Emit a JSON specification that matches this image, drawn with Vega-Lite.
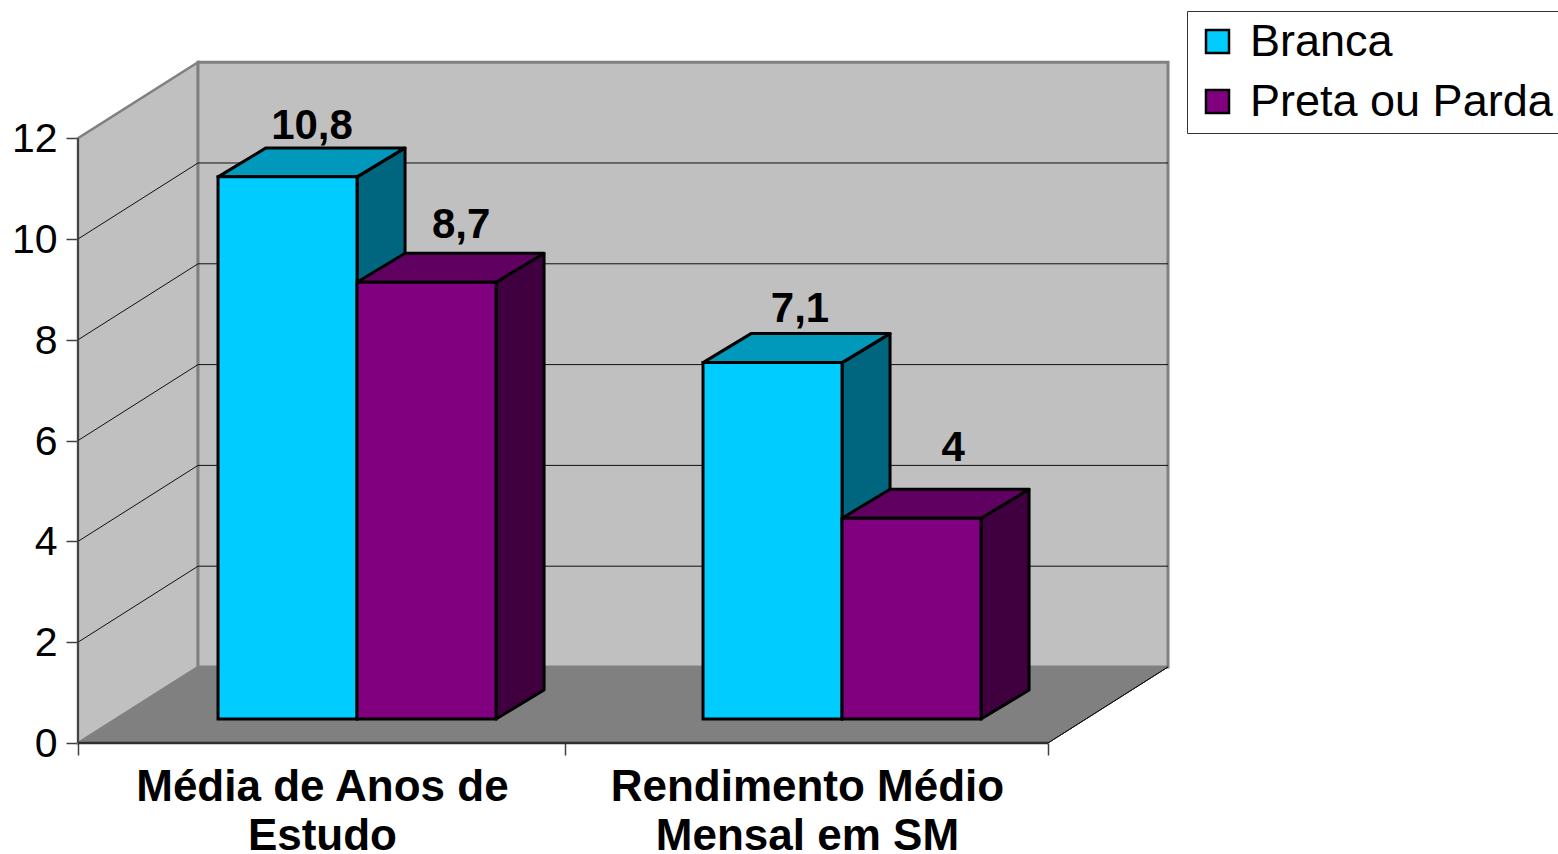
{
  "$schema": "https://vega.github.io/schema/vega-lite/v6.json",
  "width": 1480,
  "height": 743,
  "autosize": "none",
  "padding": {"left": 78, "top": 0, "right": 0, "bottom": 111},
  "background": "white",
  "config": {"view": {"stroke": null}, "font": "Liberation Sans"},
  "params": [
    {"name": "paredeX", "value": 0.2474},
    {"name": "paredeY", "value": 1.508},
    {"name": "fundoX", "value": 2},
    {"name": "barraL", "value": 0.2866},
    {"name": "barraX", "value": 0.099},
    {"name": "barraY", "value": 0.575},
    {"name": "baseY", "value": 0.476}
  ],
  "datasets": {
    "grade": [{"v": 0}, {"v": 2}, {"v": 4}, {"v": 6}, {"v": 8}, {"v": 10}, {"v": 12}],
    "barras": [
      {"categoria": "Média de Anos de\nEstudo", "serie": "Branca", "valor": 10.8},
      {"categoria": "Média de Anos de\nEstudo", "serie": "Preta ou Parda", "valor": 8.7},
      {"categoria": "Rendimento Médio\nMensal em SM", "serie": "Branca", "valor": 7.1},
      {"categoria": "Rendimento Médio\nMensal em SM", "serie": "Preta ou Parda", "valor": 4}
    ]
  },
  "layer": [
    {
      "data": {"values": [{"t": 0}, {"t": 1}]},
      "transform": [
        {"calculate": "datum.t*paredeX", "as": "x"},
        {"calculate": "datum.t*paredeY", "as": "y0"},
        {"calculate": "12+datum.t*paredeY", "as": "y1"}
      ],
      "mark": {"type": "area", "fill": "#C0C0C0", "stroke": "#808080", "strokeWidth": 2.5, "clip": false},
      "encoding": {
        "x": {
          "field": "x", "type": "quantitative",
          "scale": {"domain": [0, 3.0515], "nice": false, "zero": false},
          "axis": {"values": [0, 1.004, 2], "labels": false, "domain": false, "grid": false, "title": null, "tickSize": 12, "tickColor": "#404040", "tickWidth": 1.5}
        },
        "y": {
          "field": "y0", "type": "quantitative",
          "scale": {"domain": [0, 14.742], "nice": false, "zero": false},
          "axis": {"values": [0, 2, 4, 6, 8, 10, 12], "domain": false, "grid": false, "title": null, "tickSize": 12, "tickColor": "#404040", "tickWidth": 1.5, "labelFontSize": 41, "labelFont": "Liberation Sans", "labelColor": "black", "labelPadding": 9, "labelOffset": 1.5, "labelFlush": false, "labelOverlap": false}
        },
        "y2": {"field": "y1"}
      }
    },
    {
      "data": {"values": [{"v": 0}]},
      "transform": [
        {"calculate": "paredeX", "as": "x0"},
        {"calculate": "paredeX+fundoX", "as": "x1"},
        {"calculate": "paredeY", "as": "y0"},
        {"calculate": "12+paredeY", "as": "y1"}
      ],
      "mark": {"type": "rect", "fill": "#C0C0C0", "stroke": "#808080", "strokeWidth": 3},
      "encoding": {
        "x": {"field": "x0", "type": "quantitative"},
        "x2": {"field": "x1"},
        "y": {"field": "y0", "type": "quantitative"},
        "y2": {"field": "y1"}
      }
    },
    {
      "data": {"name": "grade"},
      "transform": [
        {"filter": "datum.v>0 && datum.v<12"},
        {"calculate": "paredeX", "as": "x0"},
        {"calculate": "paredeX+fundoX", "as": "x1"},
        {"calculate": "datum.v+paredeY", "as": "y0"}
      ],
      "mark": {"type": "rule", "stroke": "#111111", "strokeWidth": 1},
      "encoding": {
        "x": {"field": "x0", "type": "quantitative"},
        "x2": {"field": "x1"},
        "y": {"field": "y0", "type": "quantitative"}
      }
    },
    {
      "data": {"name": "grade"},
      "transform": [
        {"filter": "datum.v>0 && datum.v<12"},
        {"calculate": "0", "as": "x0"},
        {"calculate": "paredeX", "as": "x1"},
        {"calculate": "datum.v+paredeY", "as": "y1"}
      ],
      "mark": {"type": "rule", "stroke": "#111111", "strokeWidth": 1},
      "encoding": {
        "x": {"field": "x0", "type": "quantitative"},
        "x2": {"field": "x1"},
        "y": {"field": "v", "type": "quantitative"},
        "y2": {"field": "y1"}
      }
    },
    {
      "data": {"values": [{"t": 0}, {"t": 1}, {"t": 2}, {"t": 3}]},
      "transform": [
        {"calculate": "datum.t==0?0:datum.t==1?paredeX:datum.t==2?fundoX:fundoX+paredeX", "as": "x"},
        {"calculate": "datum.t==3?paredeY:0", "as": "y0"},
        {"calculate": "datum.t==0?0:paredeY", "as": "y1"}
      ],
      "mark": {"type": "area", "fill": "#808080"},
      "encoding": {
        "x": {"field": "x", "type": "quantitative"},
        "y": {"field": "y0", "type": "quantitative"},
        "y2": {"field": "y1"}
      }
    },
    {
      "data": {"values": [{"t": 0}, {"t": 1}]},
      "transform": [
        {"calculate": "fundoX", "as": "x0"},
        {"calculate": "fundoX+paredeX", "as": "x1"},
        {"calculate": "0", "as": "y0"},
        {"calculate": "paredeY", "as": "y1"}
      ],
      "mark": {"type": "rule", "stroke": "#111111", "strokeWidth": 1},
      "encoding": {
        "x": {"field": "x0", "type": "quantitative"},
        "x2": {"field": "x1"},
        "y": {"field": "y0", "type": "quantitative"},
        "y2": {"field": "y1"}
      }
    },
    {
      "data": {"values": [{"v": 0}]},
      "transform": [
        {"calculate": "0", "as": "x0"},
        {"calculate": "fundoX", "as": "x1"}
      ],
      "mark": {"type": "rule", "stroke": "#303030", "strokeWidth": 2.5},
      "encoding": {
        "x": {"field": "x0", "type": "quantitative"},
        "x2": {"field": "x1"},
        "y": {"field": "v", "type": "quantitative"}
      }
    },
    {
      "data": {"values": [{"v": 0}]},
      "transform": [
        {"calculate": "0", "as": "x0"},
        {"calculate": "12", "as": "y1"}
      ],
      "mark": {"type": "rule", "stroke": "#303030", "strokeWidth": 1.5},
      "encoding": {
        "x": {"field": "x0", "type": "quantitative"},
        "y": {"field": "v", "type": "quantitative"},
        "y2": {"field": "y1"}
      }
    },
    {
      "data": {"name": "barras"},
      "transform": [
        {"calculate": "indexof(datum.categoria,'Rendimento')==0?1:0", "as": "g"},
        {"calculate": "datum.serie=='Branca'?0:1", "as": "s"},
        {"calculate": "datum.g+0.2887+datum.s*barraL", "as": "xl"},
        {"calculate": "datum.xl+barraL", "as": "xr"},
        {"calculate": "baseY+datum.valor*0.996", "as": "topo"}
      ],
      "layer": [
        {
          "transform": [
            {"calculate": "[0,1]", "as": "ts"},
            {"flatten": ["ts"], "as": ["t"]},
            {"calculate": "datum.xr+datum.t*barraX", "as": "x"},
            {"calculate": "baseY+datum.t*barraY", "as": "y0"},
            {"calculate": "datum.topo+datum.t*barraY", "as": "y1"}
          ],
          "mark": {"type": "area", "stroke": "black", "strokeWidth": 3, "strokeJoin": "round"},
          "encoding": {
            "x": {"field": "x", "type": "quantitative"},
            "y": {"field": "y0", "type": "quantitative"},
            "y2": {"field": "y1"},
            "detail": {"field": "xl"},
            "fill": {"field": "serie", "type": "nominal", "legend": null, "scale": {"domain": ["Branca", "Preta ou Parda"], "range": ["#006680", "#400040"]}}
          }
        },
        {
          "transform": [
            {"calculate": "[0,1,2,3]", "as": "ts"},
            {"flatten": ["ts"], "as": ["t"]},
            {"calculate": "datum.t==0?datum.xl:datum.t==1?datum.xl+barraX:datum.t==2?datum.xr:datum.xr+barraX", "as": "x"},
            {"calculate": "datum.t==3?datum.topo+barraY:datum.topo", "as": "y0"},
            {"calculate": "datum.t==0?datum.topo:datum.topo+barraY", "as": "y1"}
          ],
          "mark": {"type": "area", "stroke": "black", "strokeWidth": 3, "strokeJoin": "round"},
          "encoding": {
            "x": {"field": "x", "type": "quantitative"},
            "y": {"field": "y0", "type": "quantitative"},
            "y2": {"field": "y1"},
            "detail": {"field": "xl"},
            "fill": {"field": "serie", "type": "nominal", "legend": null, "scale": {"domain": ["Branca", "Preta ou Parda"], "range": ["#0099BB", "#600060"]}}
          }
        },
        {
          "transform": [
            {"calculate": "baseY", "as": "y0"}
          ],
          "mark": {"type": "rect", "stroke": "black", "strokeWidth": 3},
          "encoding": {
            "x": {"field": "xl", "type": "quantitative"},
            "x2": {"field": "xr"},
            "y": {"field": "y0", "type": "quantitative"},
            "y2": {"field": "topo"},
            "fill": {
              "field": "serie", "type": "nominal",
              "scale": {"domain": ["Branca", "Preta ou Parda"], "range": ["#00CCFF", "#800080"]},
              "legend": {
                "title": null, "orient": "none", "legendX": 1109, "legendY": 11,
                "fillColor": "white", "strokeColor": "#333333",
                "padding": 8,
                "symbolType": "square", "symbolSize": 529, "symbolStrokeColor": "black", "symbolStrokeWidth": 2.5,
                "labelFontSize": 45, "labelFont": "Liberation Sans", "labelColor": "black", "labelOffset": 10,
                "rowPadding": 14, "labelLimit": 400, "offset": 0
              }
            }
          }
        },
        {
          "transform": [
            {"calculate": "replace(toString(datum.valor),'.',',')", "as": "rotulo"},
            {"calculate": "[0.4825,0.79,1.4887,1.8043][datum.g*2+datum.s]", "as": "lx"},
            {"calculate": "datum.valor+[1.18,1.32,1.25,1.6][datum.g*2+datum.s]", "as": "ly"}
          ],
          "mark": {"type": "text", "fontSize": 42, "fontWeight": "bold", "font": "Liberation Sans", "baseline": "alphabetic", "align": "center", "color": "black"},
          "encoding": {
            "x": {"field": "lx", "type": "quantitative"},
            "y": {"field": "ly", "type": "quantitative"},
            "text": {"field": "rotulo", "type": "nominal"}
          }
        },
        {
          "transform": [
            {"filter": "datum.s==0"},
            {"calculate": "datum.g+0.504", "as": "cx"},
            {"calculate": "0", "as": "y0"}
          ],
          "mark": {"type": "text", "fontSize": 44, "fontWeight": "bold", "font": "Liberation Sans", "baseline": "alphabetic", "align": "center", "color": "black", "lineBreak": "\n", "lineHeight": 49, "dy": 58},
          "encoding": {
            "x": {"field": "cx", "type": "quantitative"},
            "y": {"field": "y0", "type": "quantitative"},
            "text": {"field": "categoria", "type": "nominal"}
          }
        }
      ],
      "resolve": {"scale": {"fill": "independent"}}
    }
  ]
}
